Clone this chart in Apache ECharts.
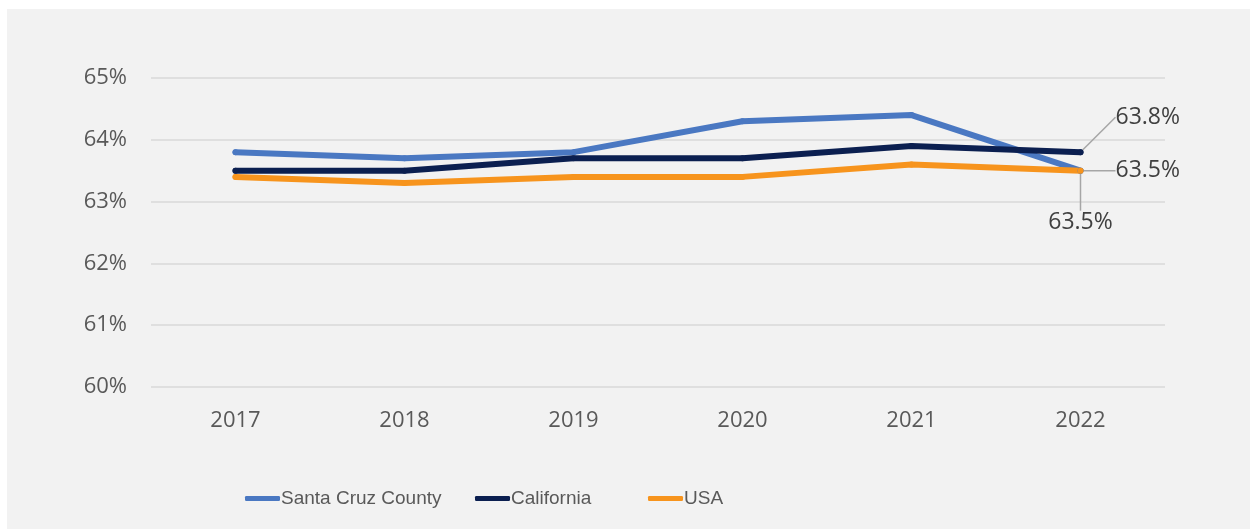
<!DOCTYPE html>
<html>
<head>
<meta charset="utf-8">
<script src="https://cdn.jsdelivr.net/npm/echarts@6/dist/echarts.min.js"></script>
<style>
  html, body { margin: 0; padding: 0; background: #ffffff; }
  #chart { position: absolute; left: 7px; top: 9px; width: 1243px; height: 520px; }
</style>
</head>
<body>
<div id="chart"></div>
<script>
var years = ['2017', '2018', '2019', '2020', '2021', '2022'];
var santaCruz = [63.8, 63.7, 63.8, 64.3, 64.4, 63.5];
var california = [63.5, 63.5, 63.7, 63.7, 63.9, 63.8];
var usa = [63.4, 63.3, 63.4, 63.4, 63.6, 63.5];
var yTicks = [60, 61, 62, 63, 64, 65];
var seriesNames = ['Santa Cruz County', 'California', 'USA'];

var fontName = 'Open Sans';

// put a label only on the last point of a series
function lastLabel(arr) {
    return arr.map(function (v, i) {
        if (i !== arr.length - 1) return v;
        return {
            value: v,
            label: {
                show: true,
                formatter: function (p) { return p.value.toFixed(1) + '%'; },
                color: '#404040',
                fontSize: 23,
                fontFamily: fontName
            },
            labelLine: { show: true, lineStyle: { color: '#a6a6a6', width: 1.5 } }
        };
    });
}

// one legend per item so each can sit where it does in the original
function legendAt(name, left) {
    return {
        data: [name],
        left: left,
        top: 475,
        icon: 'roundRect',
        itemWidth: 35,
        itemHeight: 5,
        itemGap: 0,
        textStyle: { color: '#595959', fontSize: 19, fontFamily: 'Liberation Sans', padding: [0, 0, 0, -4] }
    };
}

var chart = echarts.init(document.getElementById('chart'));
chart.setOption({
    backgroundColor: '#f2f2f2',
    animation: false,
    grid: { left: 144, top: 69, width: 1014, height: 309 },
    legend: [
        legendAt(seriesNames[0], 233),
        legendAt(seriesNames[1], 463),
        legendAt(seriesNames[2], 636)
    ],
    xAxis: {
        type: 'category',
        data: years,
        axisLine: { show: false },
        axisTick: { show: false },
        axisLabel: { color: '#595959', fontSize: 22, fontFamily: fontName, margin: 23 }
    },
    yAxis: {
        type: 'value',
        min: yTicks[0],
        max: yTicks[yTicks.length - 1],
        interval: 1,
        axisLabel: {
            color: '#595959', fontSize: 22, fontFamily: fontName, margin: 24,
            formatter: function (v) { return v + '%'; }
        },
        splitLine: { lineStyle: { color: '#d9d9d9', width: 1.5 } }
    },
    series: [
        {
            name: seriesNames[0],
            type: 'line',
            data: lastLabel(santaCruz),
            symbol: 'circle',
            symbolSize: 6,
            lineStyle: { width: 6, color: '#4a78c2', cap: 'round' },
            itemStyle: { color: '#4a78c2' },
            label: { position: 'bottom' },
            labelLayout: { dy: 32 }
        },
        {
            name: seriesNames[1],
            type: 'line',
            data: lastLabel(california),
            symbol: 'circle',
            symbolSize: 6,
            lineStyle: { width: 6, color: '#0b1f50', cap: 'round' },
            itemStyle: { color: '#0b1f50' },
            label: { position: 'right' },
            labelLayout: { dx: 27, dy: -35 }
        },
        {
            name: seriesNames[2],
            type: 'line',
            data: lastLabel(usa),
            symbol: 'circle',
            symbolSize: 6,
            lineStyle: { width: 6, color: '#f7941d', cap: 'round' },
            itemStyle: { color: '#f7941d' },
            label: { position: 'right' },
            labelLayout: { dx: 27, dy: 0 }
        }
    ]
});
</script>
</body>
</html>
